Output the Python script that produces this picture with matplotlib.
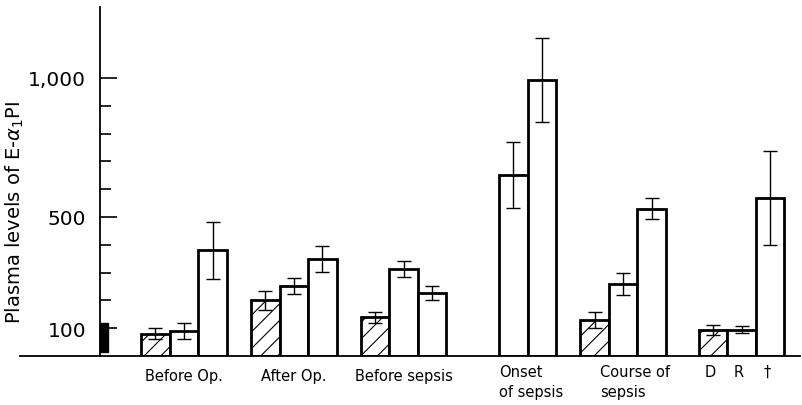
import matplotlib
matplotlib.use("Agg")
import matplotlib.pyplot as plt
from matplotlib.patches import Rectangle

# --- data (plasma E-alpha1PI) ---
groups = ["Before Op.", "After Op.", "Before sepsis", "Onset\nof sepsis",
          "Course of\nsepsis", "D R \u2020"]
# three bars per group: hatched, white, white  (None = no bar)
values = [
    [80, 90, 380],
    [200, 252, 349],
    [140, 313, 227],
    [None, 651, 993],
    [129, 259, 529],
    [94, 94, 568],
]
errors = [
    [20, 29, 103],
    [33, 29, 47],
    [20, 30, 25],
    [None, 120, 150],
    [28, 40, 38],
    [18, 13, 169],
]
normal_range = (15, 120)
y_major = [100, 500, 1000]
y_major_labels = ["100", "500", "1,000"]
y_minor = [200, 300, 400, 600, 700, 800, 900]

plt.rcParams["hatch.linewidth"] = 0.8

fig = plt.figure(figsize=(8.02, 4.06), dpi=100)
ax = fig.add_axes([20 / 802, 1 - 357 / 406, 780 / 802, 349 / 406])

width = 1.0
step = 3.85
starts = [1.45 + step * i for i in range(len(groups))]
starts[-1] += 0.3

for g, start in enumerate(starts):
    for k in range(3):
        v = values[g][k]
        if v is None:
            continue
        x = start + k * width + width / 2
        ax.bar(x, v, width=width, facecolor="white", edgecolor="black",
               linewidth=2.0, hatch="//" if k == 0 else None, zorder=2)
        ax.errorbar(x, v, yerr=errors[g][k], color="black", capsize=5,
                    elinewidth=1.0, capthick=1.0, zorder=3)

# normal range marker on the axis
ax.add_patch(Rectangle((0, normal_range[0]), 0.28, normal_range[1] - normal_range[0],
                       facecolor="black", edgecolor="black", zorder=4))

ax.set_xlim(-2.8, 24.55)
ax.set_ylim(0, 1255)

for s in ["top", "right"]:
    ax.spines[s].set_visible(False)
ax.spines["left"].set_position(("data", 0))
ax.spines["left"].set_linewidth(1.3)
ax.spines["bottom"].set_linewidth(1.3)

ax.set_yticks(y_major)
ax.set_yticklabels(y_major_labels, fontsize=14.5)
ax.set_yticks(y_minor, minor=True)
ax.tick_params(axis="y", which="major", direction="in", length=12, width=1.2, pad=10)
ax.tick_params(axis="y", which="minor", direction="in", length=8, width=1.2)
ax.set_xticks([])

fig.text(15 / 802, 1 - 212 / 406, "Plasma levels of E-$\\alpha_1$PI", rotation=90,
         fontsize=14, ha="center", va="center")

# group labels under the axis
lab_kw = dict(fontsize=10.5, va="top")
for g in range(3):
    ax.text(starts[g] + 1.5, -44, groups[g], ha="center", **lab_kw)
ax.text(starts[3] + 1.0, -28, groups[3], ha="left", linespacing=1.45, **lab_kw)
ax.text(starts[4] + 0.7, -28, groups[4], ha="left", linespacing=1.45, **lab_kw)
for k, lbl in enumerate(groups[5].split()):
    ax.text(starts[5] + k * width + 0.4, -28, lbl, ha="center", **lab_kw)

fig.savefig("out.png", dpi=100)
